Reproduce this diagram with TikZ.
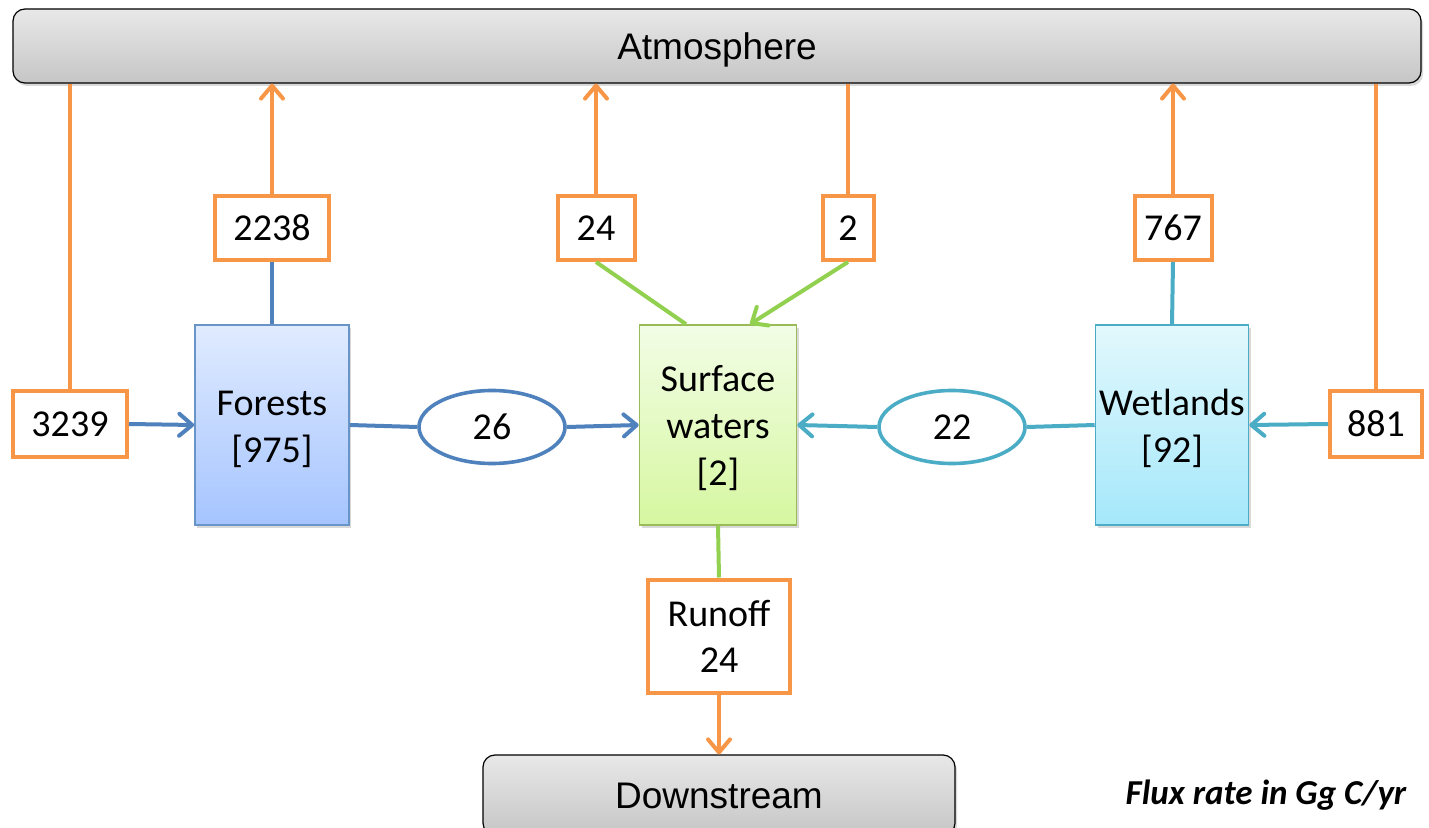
\documentclass[tikz,border=0pt]{standalone}
\usepackage{fontspec}
\setmainfont{Carlito}
\newfontfamily\arialf{Liberation Sans}
\usetikzlibrary{arrows.meta,shadows,calc,shapes.geometric}
\definecolor{orangec}{HTML}{F79646}
\definecolor{bluec}{HTML}{4F81BD}
\definecolor{cyanc}{HTML}{4BACC6}
\definecolor{greenc}{HTML}{92D050}
\definecolor{greenb}{HTML}{9BBB59}
\tikzset{
  flux/.style={draw=orangec, line width=2pt, fill=white, inner sep=0pt, font=\fontsize{19}{23}\selectfont, align=center},
  pool/.style={line width=0.8pt, inner sep=0pt, font=\fontsize{19}{23.5}\selectfont, align=center, minimum height=100pt,
     drop shadow={shadow xshift=1pt, shadow yshift=-1.5pt, opacity=0.3}},
  graybar/.style={draw=black, line width=0.6pt, rounded corners=6pt, top color=gray!18, bottom color=gray!45, inner sep=0pt,
     text height=13.2pt, text depth=0pt,
     font=\arialf\fontsize{18.5}{22}\selectfont, drop shadow={shadow xshift=1pt, shadow yshift=-1.5pt, opacity=0.3}},
  oval/.style={ellipse, line width=1.8pt, fill=white, minimum width=73pt, minimum height=36.5pt, inner sep=0pt, font=\fontsize{19}{23}\selectfont},
  arr/.style={-{Straight Barb[length=6.5pt,width=11pt,line cap=round,line join=round]}},
  oline/.style={draw=orangec, line width=2pt},
  bline/.style={draw=bluec, line width=2pt},
  cline/.style={draw=cyanc, line width=2pt},
  gline/.style={draw=greenc, line width=2pt},
}
\newcommand{\pooltext}[1]{\raisebox{-6.5pt}[0pt][0pt]{\begin{tabular}{@{}c@{}}#1\end{tabular}}}
\begin{document}
\begin{tikzpicture}[x=0.5pt,y=-0.5pt]
\useasboundingbox (0,0) rectangle (1429,828);
% bars
\node[graybar, minimum width=704pt, minimum height=37pt] (atm) at (717,46) {Atmosphere};
\node[graybar, minimum width=236pt, minimum height=40pt] (down) at (719,795) {Downstream};
% pools
\node[pool, draw=bluec!85, top color={rgb,255:red,224;green,235;blue,255}, bottom color={rgb,255:red,165;green,196;blue,255}, minimum width=77pt] (for) at (272,425) {\pooltext{Forests\\{[975]}}};
\node[pool, draw=greenb, top color={rgb,255:red,242;green,253;blue,230}, bottom color={rgb,255:red,214;green,247;blue,160}, minimum width=78.5pt] (sw) at (718,425) {\pooltext{Surface\\waters\\{[2]}}};
\node[pool, draw=cyanc, top color={rgb,255:red,226;green,248;blue,252}, bottom color={rgb,255:red,165;green,232;blue,251}, minimum width=76.5pt] (wet) at (1172,425) {\pooltext{Wetlands\\{[92]}}};
% flux boxes
\node[flux, minimum width=57pt, minimum height=32.5pt] (f3239) at (70,424) {3239};
\node[flux, minimum width=57pt, minimum height=32pt] (f2238) at (272,228) {2238};
\node[flux, minimum width=38.5pt, minimum height=32pt] (f24) at (596,228) {24};
\node[flux, minimum width=25.5pt, minimum height=32pt] (f2) at (848,228) {2};
\node[flux, minimum width=38.5pt, minimum height=32pt] (f767) at (1173,228) {767};
\node[flux, minimum width=46pt, minimum height=32.5pt] (f881) at (1376,424) {881};
\node[flux, minimum width=71pt, minimum height=56.5pt] (run) at (719,636) {Runoff\\24};
% ellipses
\node[oval, draw=bluec] (e26) at (492,427) {26};
\node[oval, draw=cyanc] (e22) at (952,427) {22};
% connectors orange
\draw[oline] (f3239.north) -- (f3239.north |- atm.south);
\draw[oline, arr] (f2238.north) -- (f2238.north |- atm.south);
\draw[oline, arr] (f24.north) -- (f24.north |- atm.south);
\draw[oline] (f2.north) -- (f2.north |- atm.south);
\draw[oline, arr] (f767.north) -- (f767.north |- atm.south);
\draw[oline] (f881.north) -- (f881.north |- atm.south);
\draw[oline, arr] (run.south) -- (down.north);
% blue
\draw[bline, arr] (f3239.east) -- (for.west);
\draw[bline] (f2238.south) -- (for.north);
\draw[bline] (for.east) -- (e26.west);
\draw[bline, arr] (e26.east) -- (sw.west);
% cyan
\draw[cline] (f767.south) -- (wet.north);
\draw[cline, arr] (f881.west) -- (wet.east);
\draw[cline] (wet.west) -- (e22.east);
\draw[cline, arr] (e22.west) -- (sw.east);
% green
\draw[gline] (f24.south) -- ([xshift=-16pt]sw.north);
\draw[gline, arr] (f2.south) -- ([xshift=16pt]sw.north);
\draw[gline] (sw.south) -- (run.north);
% note
\node[font=\bfseries\itshape\fontsize{17.5}{20}\selectfont] (note) at (1266,795) {Flux rate in Gg C/yr};
\end{tikzpicture}
\end{document}
